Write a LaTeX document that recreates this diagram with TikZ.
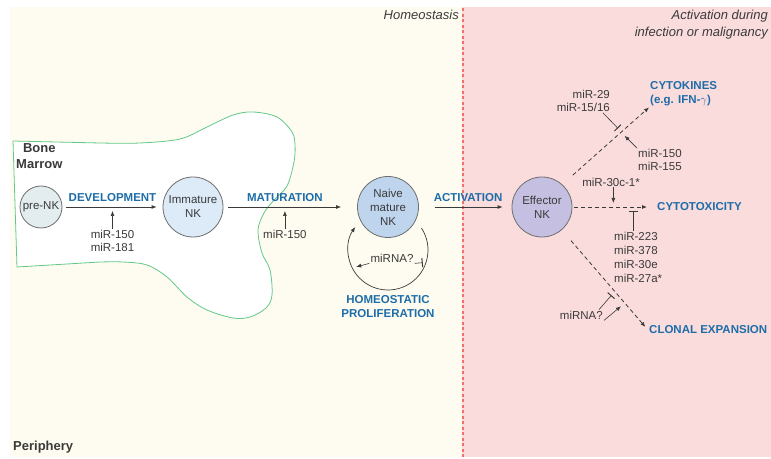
\documentclass[tikz,border=0pt]{standalone}
\usepackage{fontspec}
\setmainfont{Liberation Sans}
\usetikzlibrary{arrows.meta, positioning, calc}
\definecolor{periphcream}{HTML}{FEFCF0}
\definecolor{activpink}{HTML}{FBDCDD}
\definecolor{borderred}{HTML}{F2706A}
\definecolor{marrowgreen}{HTML}{62C987}
\definecolor{stageblue}{HTML}{1D6DA9}
\definecolor{inkgray}{HTML}{3A3A3A}
\definecolor{cellgray}{HTML}{6E6E6E}
\definecolor{prenkfill}{HTML}{E3ECEE}
\definecolor{immaturefill}{HTML}{DDEAF7}
\definecolor{naivefill}{HTML}{BFD5EE}
\definecolor{effectorfill}{HTML}{C5C0E2}

\begin{document}
\begin{tikzpicture}[
      x=1pt, y=1pt,
      cell/.style={circle, draw=cellgray, line width=0.8pt, inner sep=0pt,
        align=center, text=inkgray, font=\fontsize{11.5}{14}\selectfont},
      stage/.style={text=stageblue, inner sep=1pt, align=center,
        font=\fontsize{11.5}{14}\selectfont\bfseries},
      mirna/.style={text=inkgray, inner sep=1pt,
        font=\fontsize{11.5}{13}\selectfont},
      region/.style={text=inkgray, inner sep=0pt, align=center,
        font=\fontsize{13}{16}\selectfont\bfseries},
      phase/.style={text=inkgray, inner sep=0pt, align=right,
        font=\fontsize{13}{17}\selectfont\itshape},
      flow/.style={->, draw=inkgray, line width=0.8pt},
      dashflow/.style={flow, dash pattern=on 4pt off 3pt},
      promote/.style={->, draw=inkgray, line width=0.6pt},
      inhibit/.style={-{Bar[width=9pt, line width=1pt]}, draw=inkgray,
        line width=0.6pt},
      >={Latex[length=5pt, width=4pt]}
    ]
      \useasboundingbox (0,0) rectangle (771,458);
      \fill[periphcream] (10,1) rectangle (462,451);
      \fill[activpink] (462,1) rectangle (771,451);
      \draw[borderred, line width=1.1pt, dash pattern=on 3pt off 2.5pt]
        (463,1) -- (463,451);

      \node[phase, anchor=north east] (homeo) at (459,448) {Homeostasis};
      \node[phase, anchor=north east] (activ) at (768,448)
        {Activation during\\infection or malignancy};

      \draw[marrowgreen, line width=0.8pt, fill=white] (100,196) -- (17,191)
        -- (13,317) -- (100,315) -- plot[smooth, tension=0.55] coordinates {
        (100,315) (140,315) (180,319) (207,331) (233,343) (253,346) (277,341)
        (292,326) (295,313) (294,296) (287,272) (274,258) (264,245) (258,228)
        (262,205) (270,188) (272,163) (266,150) (250,141) (233,140) (207,148)
        (187,161) (167,181) (147,193) (123,196) (100,196)};
      \node[region, anchor=north west] (marrow) at (16,315) {Bone\\Marrow};
      \node[region, anchor=base west] (periph) at (13,8) {Periphery};

      \node[cell, fill=prenkfill, minimum size=42pt] (prenk) at (41,251)
        {pre-NK};
      \node[cell, fill=immaturefill, minimum size=60pt] (immature)
        at (193,251) {Immature\\NK};
      \node[cell, fill=naivefill, minimum size=61pt] (naive) at (388,251)
        {Naive\\mature\\NK};
      \node[cell, fill=effectorfill, minimum size=60pt] (effector)
        at (542,251) {Effector\\NK};

      \draw[flow, shorten <=4pt, shorten >=6pt] (prenk) --
        node[stage, above=4pt] {DEVELOPMENT} coordinate[midway] (devmid)
        (immature);
      \draw[flow, shorten <=5pt, shorten >=16pt] (immature) --
        node[stage, pos=0.46, above=4pt] {MATURATION}
        coordinate[pos=0.46] (matmid) (naive);
      \draw[flow, shorten <=16pt, shorten >=9pt] (naive) --
        node[stage, pos=0.53, above=4pt] {ACTIVATION} (effector);

      \node[mirna, align=center, below=22pt of devmid] (devmir)
        {miR-150\\miR-181};
      \draw[promote, shorten >=4pt] (devmir) -- (devmid);
      \node[mirna, below=22pt of matmid] (matmir) {miR-150};
      \draw[promote, shorten >=4pt] (matmir) -- (matmid);

      \coordinate[below=43pt of naive.center] (loopc);
      \draw[flow, line width=0.7pt] ([shift={(33:40pt)}]loopc)
        arc[start angle=33, end angle=-215, radius=40pt];
      \node[mirna] (loopmir) at (392,200) {miRNA?};
      \coordinate (looplft) at ([shift={(208:36pt)}]loopc);
      \coordinate (looprgt) at ([shift={(-20:37pt)}]loopc);
      \draw[promote] (loopmir.south west) -- (looplft);
      \draw[inhibit] (loopmir.south east) -- (looprgt);
      \node[stage, below=44pt of loopc] (homprolif)
        {HOMEOSTATIC\\PROLIFERATION};

      \node[stage, anchor=west, align=left] (cytok) at (649,364)
        {CYTOKINES\\(e.g. IFN-$\gamma$)};
      \node[stage, anchor=west] (cytotox) at (656,251) {CYTOTOXICITY};
      \node[stage, anchor=west] (clonal) at (648,128) {CLONAL EXPANSION};

      \draw[dashflow, shorten <=14pt] (effector.48) --
        coordinate[pos=0.68] (cytmid) (cytok.south west);
      \draw[dashflow, shorten <=2pt, shorten >=9pt] (effector) --
        coordinate[pos=0.49] (toxdown) coordinate[pos=0.73] (toxbar)
        (cytotox);
      \draw[dashflow, shorten <=14pt, shorten >=4pt] (effector) --
        coordinate[pos=0.62] (clobar) coordinate[pos=0.73] (cloarr)
        (clonal.west);

      \node[mirna, anchor=east, align=right] (mircyt) at (611,357)
        {miR-29\\miR-15/16};
      \draw[inhibit] ([xshift=-8pt]mircyt.south east) --
        ($(cytmid)!5pt!90:(cytok.south west)$);
      \node[mirna, anchor=west, align=left] (mirboost) at (637,298)
        {miR-150\\miR-155};
      \draw[promote] (mirboost.north west) --
        ($(cytmid)!5pt!-90:(cytok.south west)$);

      \node[mirna] (mirtox) at (611,276) {miR-30c-1*};
      \draw[promote, shorten >=4pt] (mirtox.south -| toxdown) -- (toxdown);
      \node[mirna, anchor=west, align=left,
        font=\fontsize{11.5}{14}\selectfont] (mirtoxinh) at (613,201)
        {miR-223\\miR-378\\miR-30e\\miR-27a*};
      \draw[inhibit, shorten >=4pt] (mirtoxinh.north -| toxbar) -- (toxbar);

      \node[mirna, anchor=east] (mirclo) at (604,143) {miRNA?};
      \draw[inhibit] ([xshift=-5pt]mirclo.north east) --
        ($(clobar)!5pt!-90:(clonal.west)$);
      \draw[promote] (mirclo.south east) --
        ($(cloarr)!5pt!-90:(clonal.west)$);
    \end{tikzpicture}
\end{document}
